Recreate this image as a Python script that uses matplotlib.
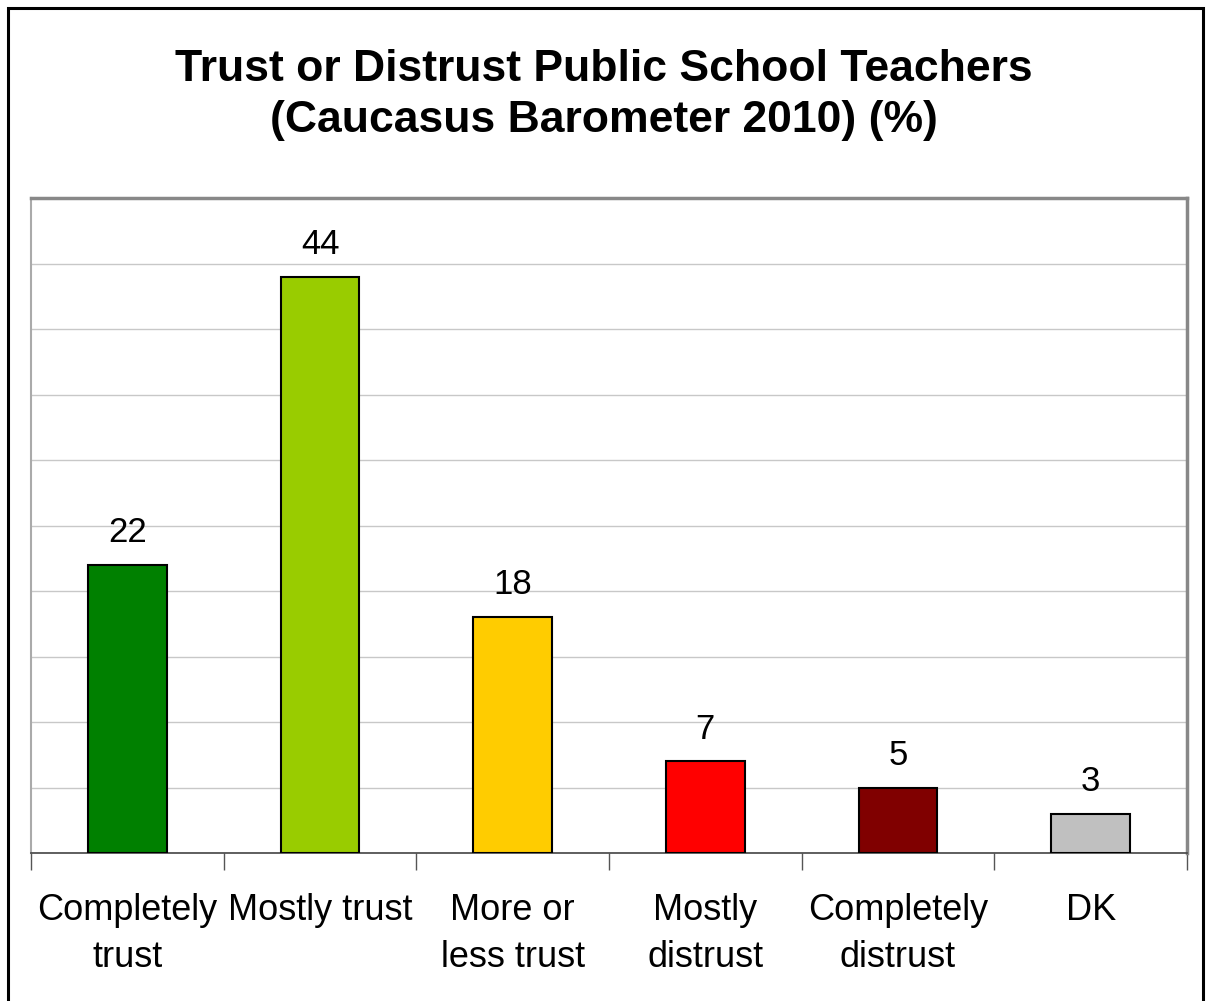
import matplotlib.pyplot as plt
from matplotlib.patches import Rectangle

plt.rcParams['font.family'] = ['Liberation Sans', 'DejaVu Sans']

categories = ["Completely\ntrust", "Mostly trust", "More or\nless trust",
              "Mostly\ndistrust", "Completely\ndistrust", "DK"]
values = [22, 44, 18, 7, 5, 3]
colors = ["#008000", "#99cc00", "#ffcc00", "#ff0000", "#800000", "#c0c0c0"]

fig = plt.figure(figsize=(12.07, 10.01), dpi=100)
# outer frame of the chart
fig.patches.append(Rectangle((0.0066, -0.01), 0.9905, 1.002, transform=fig.transFigure,
                             fill=False, edgecolor="black", linewidth=2.2))

ax = fig.add_axes([31 / 1207, 1 - 853 / 1001, 1156 / 1207, 655 / 1001])
x = range(len(values))
ax.bar(x, values, width=0.41, color=colors, edgecolor="black", linewidth=1.5, zorder=3)

ax.set_xlim(-0.5, len(values) - 0.5)
ax.set_ylim(0, 50)
ax.set_yticks(range(0, 51, 5))
ax.set_yticklabels([])
ax.tick_params(axis="y", length=0)
ax.grid(axis="y", color="#c8c8c8", linewidth=1, zorder=0)

# category boundaries as tick marks below the axis
ax.set_xticks([i - 0.5 for i in range(len(values) + 1)], minor=False)
ax.set_xticklabels([])
ax.tick_params(axis="x", length=12, width=1, color="#555555", direction="out")
ax.set_xticks(list(x), minor=True)
ax.set_xticklabels(categories, minor=True, fontsize=26, linespacing=1.42)
ax.tick_params(axis="x", which="minor", length=0, pad=29)

for spine in ["top", "right"]:
    ax.spines[spine].set_color("#888888")
    ax.spines[spine].set_linewidth(2.5)
ax.spines["left"].set_color("#aaaaaa")
ax.spines["left"].set_linewidth(1.5)
ax.spines["bottom"].set_color("#444444")
ax.spines["bottom"].set_linewidth(1.2)

for i, v in enumerate(values):
    ax.text(i, v + 1.2, str(v), ha="center", va="bottom", fontsize=25)

fig.text(0.5, 0.905, "Trust or Distrust Public School Teachers\n(Caucasus Barometer 2010) (%)",
         ha="center", va="center", fontsize=32, fontweight="bold", linespacing=1.32)

fig.savefig("out.png", dpi=100)
